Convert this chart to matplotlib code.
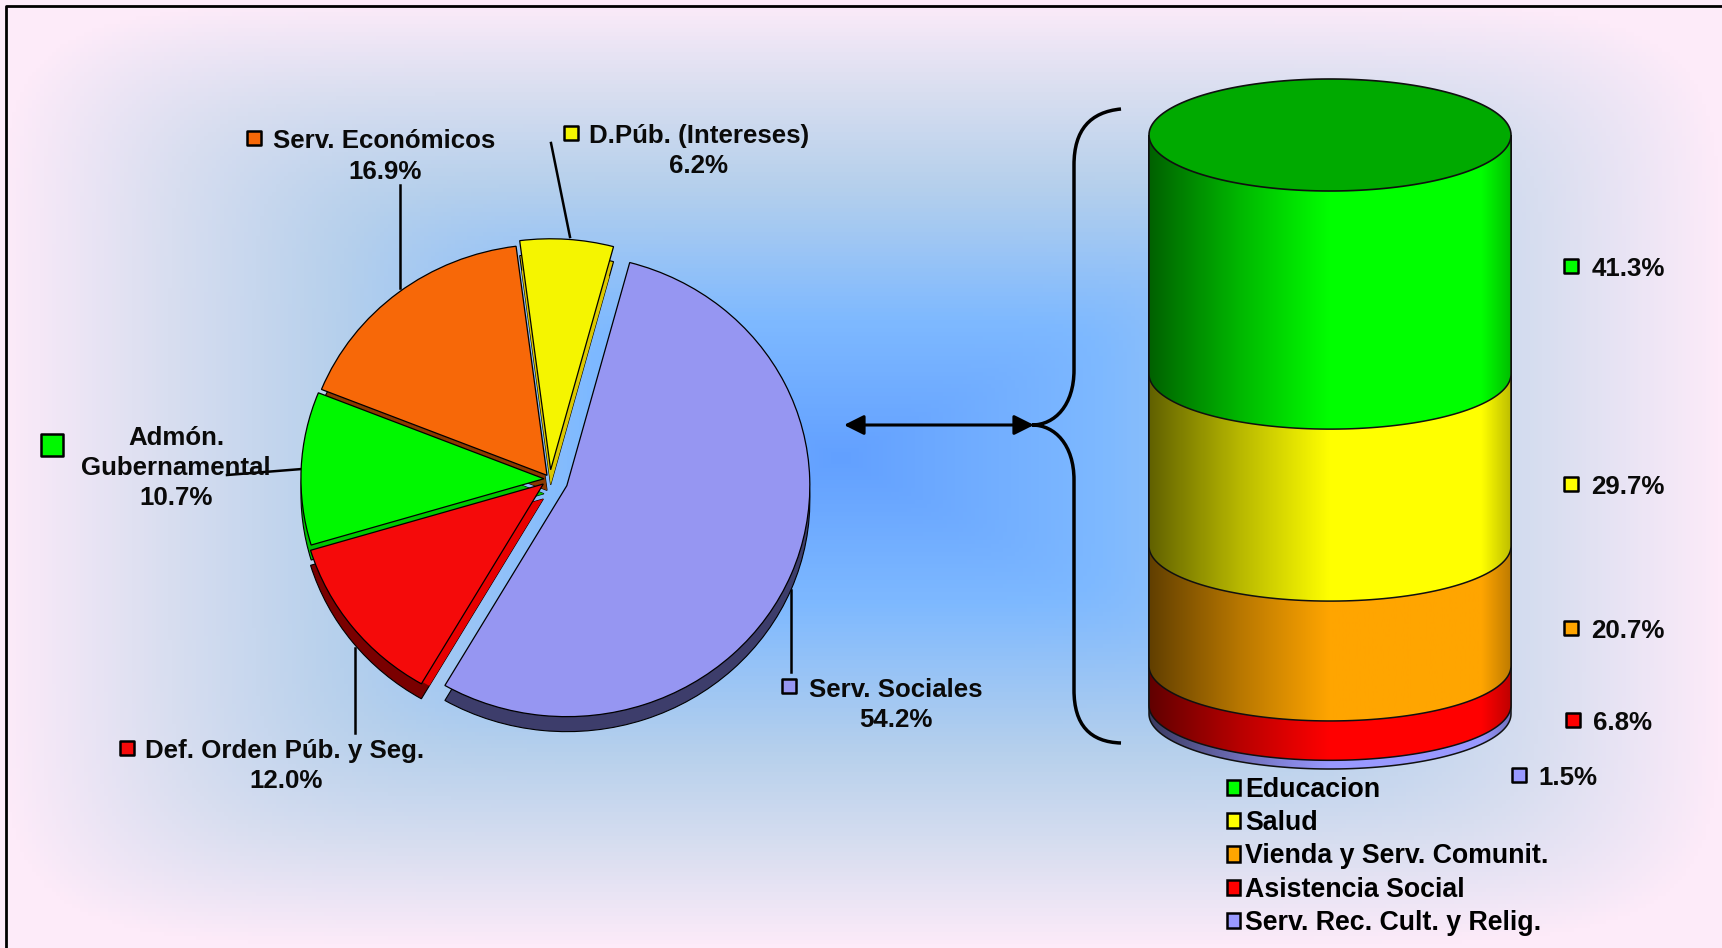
import numpy as np
import matplotlib
matplotlib.use('Agg')
import matplotlib.pyplot as plt

from matplotlib.patches import PathPatch, Patch
from matplotlib.path import Path

# left pie, clockwise from the top
pie_labels = ['Serv. Sociales', 'Def. Orden Púb. y Seg.', 'Admón.\nGubernamental',
              'Serv. Económicos', 'D.Púb. (Intereses)']
pie_values = [54.2, 12.0, 10.7, 16.9, 6.2]
pie_top = ['#9696F2', '#F50A0A', '#00F800', '#F76808', '#F5F500']
pie_rim = ['#3D3D6B', '#7A0000', '#00C000', '#8B3A00', '#DCC800']
pie_side = ['#3D3D6B', '#E80000', '#00C800', '#8B3A00', '#DCC800']
pie_explode = [0.075, 0.035, 0.025, 0.02, 0.04]

# right cylinder, top to bottom
cyl_labels = ['Educacion', 'Salud', 'Vienda y Serv. Comunit.', 'Asistencia Social',
              'Serv. Rec. Cult. y Relig.']
cyl_values = [41.3, 29.7, 20.7, 6.8, 1.5]
cyl_colors = ['#00FF00', '#FFFF00', '#FFA500', '#FF0000', '#9999FF']

W, H = 1722, 948
FONT = 'Liberation Sans'


def py(y):
    return H - y


def label(ax, x, y, text, size=18.6, **kw):
    ax.text(x, py(y + 2), text, fontsize=size, fontweight='bold', family=FONT,
            ha='center', va='center', color='#0A0A0A', linespacing=1.27, **kw)


def square(ax, x, y, color, s=95):
    ax.scatter([x], [py(y)], s=s, marker='s', c=color, edgecolors='black', linewidths=1.8, zorder=3)


fig = plt.figure(figsize=(W / 100, H / 100), dpi=100)
ax = fig.add_axes([0, 0, 1, 1], zorder=0)
ax.set_xlim(0, W)
ax.set_ylim(0, H)
ax.axis('off')

# background, box shaped gradient from the blue centre
xx, yy = np.meshgrid(np.linspace(0, W, 431), np.linspace(0, H, 237))
u = np.abs(xx - 840) / np.where(xx < 840, 840, W - 840)
v = np.abs(yy - 490) / np.where(yy < 490, 490, H - 490)
t = np.clip((u ** 8 + v ** 8) ** (1 / 8), 0, 1)
stops = [0, 0.3, 0.6, 0.8, 1]
bg = np.dstack([
    np.interp(t, stops, [0x62, 0x7E, 0xB6, 0xD8, 0xFD]),
    np.interp(t, stops, [0xA0, 0xB9, 0xD0, 0xDE, 0xEB]),
    np.interp(t, stops, [0xFF, 0xFF, 0xEC, 0xF0, 0xF9]),
]) / 255
ax.imshow(bg[::-1], extent=(0, W, 0, H), aspect='auto', zorder=0)
ax.set_xlim(0, W)
ax.set_ylim(0, H)

# frame, only top and left are visible
ax.plot([6, 6, W], [0, py(6), py(6)], c='k', lw=2, zorder=1)

# leader lines
for (x0, y0), (x1, y1) in [((400, 185), (400, 288)), ((551, 143), (570, 237)),
                           ((227, 475), (302, 469)), ((355, 648), (355, 733)),
                           ((791, 590), (791, 672))]:
    ax.plot([x0, x1], [py(y0), py(y1)], c='k', lw=1.8, zorder=1)

# pie, x and y scale differ because it is tilted
rx, ry = 243, 231
span = 1.4
ax_pie = fig.add_axes([(550 - span * rx) / W, (py(479) - span * ry) / H,
                       2 * span * rx / W, 2 * span * ry / H], zorder=1)
depth = 15 / ry
common = dict(startangle=75, counterclock=False, explode=pie_explode, frame=True)
ax_pie.pie(pie_values, colors=pie_rim, radius=1, center=(0, -depth),
           wedgeprops=dict(edgecolor='black', linewidth=0.8), **common)
ax_pie.pie(pie_values, colors=pie_side, radius=1 - depth, center=(0, -depth),
           wedgeprops=dict(edgecolor='none'), **common)
ax_pie.pie(pie_values, colors=pie_top, radius=1, center=(0, 0),
           wedgeprops=dict(edgecolor='black', linewidth=0.9), **common)
ax_pie.set_aspect('auto')
ax_pie.set_xlim(-span, span)
ax_pie.set_ylim(-span, span)
ax_pie.axis('off')

# cylinder, drawn from the bottom up so each band overlaps the next one
cx, cyl_rx, cyl_ry = 1330, 181, 55
y_start, y_scale = 135, 5.79
edges = y_start + np.cumsum(cyl_values) * y_scale
shade_x = [0, 0.05, 0.25, 0.5, 0.92, 1]
shade_y = [0.38, 0.45, 0.72, 1, 1, 0.75]
s = np.linspace(0, 1, 364)
shade = np.interp(s, shade_x, shade_y)[None, :, None]
for value_end, color in list(zip(edges, cyl_colors))[::-1]:
    a = np.linspace(np.pi, 2 * np.pi, 90)
    arc_x = cx + cyl_rx * np.cos(a)
    arc_y = py(value_end) + cyl_ry * np.sin(a)
    verts = [(cx - cyl_rx, py(y_start))] + list(zip(arc_x, arc_y)) + [(cx + cyl_rx, py(y_start))]
    patch = PathPatch(Path(verts), fc='none', ec='none', zorder=2)
    ax.add_patch(patch)
    rgb = np.array(matplotlib.colors.to_rgb(color))[None, None, :]
    im = ax.imshow(shade * rgb, extent=(cx - cyl_rx, cx + cyl_rx, py(edges[-1]) - cyl_ry, py(y_start)),
                   aspect='auto', zorder=2)
    im.set_clip_path(patch)
    ax.add_patch(PathPatch(Path(verts), fc='none', ec='#101010', lw=1.1, zorder=2))
a = np.linspace(0, 2 * np.pi, 180)
ax.fill(cx + cyl_rx * np.cos(a), py(y_start) + 56 * np.sin(a), fc='#00AA00', ec='#101010', lw=1.2, zorder=2)
ax.set_xlim(0, W)
ax.set_ylim(0, H)

# brace and arrow
brace = [(1121, 109), (1090, 112), (1074, 130), (1074, 165),
         (1074, 370), (1074, 405), (1055, 425), (1032, 425),
         (1055, 425), (1074, 445), (1074, 480),
         (1074, 690), (1074, 725), (1090, 742), (1121, 743)]
codes = [Path.MOVETO, Path.CURVE4, Path.CURVE4, Path.CURVE4,
         Path.LINETO, Path.CURVE4, Path.CURVE4, Path.CURVE4,
         Path.CURVE4, Path.CURVE4, Path.CURVE4,
         Path.LINETO, Path.CURVE4, Path.CURVE4, Path.CURVE4]
ax.add_patch(PathPatch(Path([(x, py(y)) for x, y in brace], codes), fc='none', ec='k', lw=2.5, zorder=2))
ax.annotate('', xy=(844, py(425)), xytext=(1034, py(425)), zorder=3,
            arrowprops=dict(arrowstyle='<|-|>,head_length=0.6,head_width=0.3', color='k', lw=2.2,
                            shrinkA=0, shrinkB=0, mutation_scale=20))

# pie labels
square(ax, 789, 686, pie_top[0])
label(ax, 896, 688, pie_labels[0])
label(ax, 896, 718, f'{pie_values[0]}%')
square(ax, 127, 748, pie_top[1])
label(ax, 285, 749, pie_labels[1])
label(ax, 286, 779, f'{pie_values[1]:.1f}%')
square(ax, 52, 445, pie_top[2], s=250)
label(ax, 176, 451, pie_labels[2])
label(ax, 176, 496, f'{pie_values[2]}%')
square(ax, 254, 138, pie_top[3])
label(ax, 384, 139, pie_labels[3])
label(ax, 385, 170, f'{pie_values[3]}%')
square(ax, 571, 133, pie_top[4])
label(ax, 699, 134, pie_labels[4])
label(ax, 699, 164, f'{pie_values[4]}%')

# cylinder labels
for i, (x, y, tx) in enumerate([(1571, 266, 1628), (1571, 484, 1628), (1571, 628, 1628),
                                (1573, 720, 1623), (1519, 775, 1568)]):
    square(ax, x, y, cyl_colors[i])
    label(ax, tx, y + 1, f'{cyl_values[i]}%')

handles = [Patch(fc=c, ec='black', lw=1.8) for c in cyl_colors]
fig.legend(handles, cyl_labels, loc='upper left', bbox_to_anchor=(1227 / W, py(777) / H),
           frameon=False, prop=dict(family=FONT, weight='bold', size=19.3), labelspacing=0.27,
           handlelength=0.5, handleheight=0.5, handletextpad=0.17, borderpad=0, borderaxespad=0)

fig.savefig('out.png', dpi=100)
